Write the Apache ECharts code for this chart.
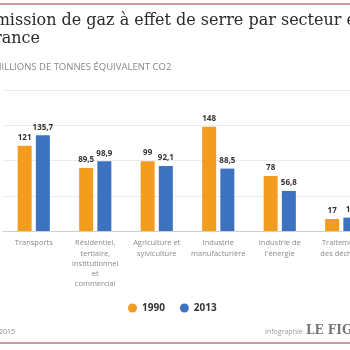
<!DOCTYPE html>
<html>
<head>
<meta charset="utf-8">
<script src="https://cdn.jsdelivr.net/npm/echarts@6/dist/echarts.min.js"></script>
<style>
html,body{margin:0;padding:0;background:#fff;}
#chart{width:350px;height:350px;}
</style>
</head>
<body>
<div id="chart"></div>
<script>
// secteurs (axe x)
var categories = ['Transports', 'Résidentiel,\ntertiaire,\ninstitutionnel\net\ncommercial',
  'Agriculture et\nsylviculture', 'Industrie\nmanufacturière', 'Industrie de\nl\'énergie',
  'Traitement\ndes déchets'];
// millions de tonnes équivalent CO2
var values1990 = [121, 89.5, 99, 148, 78, 17];
var values2013 = [135.7, 98.9, 92.1, 88.5, 56.8, 19];
var years = ['1990', '2013'];

var chart = echarts.init(document.getElementById('chart'));

function fmt(p){
  return String(p.value).replace('.', ',');
}
function serie(name, data, color){
  return {
    name: name,
    type: 'bar',
    data: data,
    barWidth: 14,
    barGap: '30%',
    itemStyle: {color: color},
    label: {
      show: true,
      position: 'top',
      distance: 4,
      formatter: fmt,
      fontFamily: 'Open Sans',
      fontWeight: 'bold',
      fontSize: 8,
      color: '#333'
    }
  };
}

var option = {
  backgroundColor: '#fff',
  animation: false,
  grid: {left: 3, right: -22, top: 90, bottom: 119, containLabel: false, outerBoundsMode: 'none'},
  legend: {
    data: years,
    left: 123,
    top: 298,
    icon: 'circle',
    itemWidth: 9,
    itemHeight: 9,
    itemGap: 15,
    textStyle: {fontFamily: 'Open Sans', fontWeight: 'bold', fontSize: 10, color: '#333'}
  },
  xAxis: {
    type: 'category',
    data: categories,
    axisLine: {lineStyle: {color: '#cfcfcf'}},
    axisTick: {lineStyle: {color: '#cfcfcf'}, length: 4},
    axisLabel: {
      interval: 0,
      fontFamily: 'Open Sans',
      fontSize: 7.5,
      lineHeight: 10.3,
      color: '#8a8a8a',
      margin: 7
    }
  },
  yAxis: {
    type: 'value',
    min: 0,
    max: 200,
    interval: 50,
    axisLabel: {show: false},
    axisLine: {show: false},
    axisTick: {show: false},
    splitLine: {lineStyle: {color: '#ececec'}}
  },
  series: [
    serie('1990', values1990, '#f39c1f'),
    serie('2013', values2013, '#3d72c0')
  ],
  graphic: [
    {type: 'rect', shape: {x: 0, y: 3, width: 350, height: 2}, style: {fill: '#c99a9a'}},
    {type: 'rect', shape: {x: 0, y: 342, width: 350, height: 2}, style: {fill: '#c99a9a'}},
    {type: 'text', left: -17, top: 13,
      style: {text: 'Émission de gaz à effet de serre par secteur en', font: '16px "DejaVu Serif"', fill: '#2a2a2a'}},
    {type: 'text', left: -17, top: 31,
      style: {text: 'France', font: '16px "DejaVu Serif"', fill: '#2a2a2a'}},
    {type: 'text', left: -7, top: 62,
      style: {text: 'MILLIONS DE TONNES ÉQUIVALENT CO2', font: '9.5px "Open Sans"', fill: '#888'}},
    {type: 'text', left: -1, top: 328,
      style: {text: '2015', font: '7px "Open Sans"', fill: '#888'}},
    {type: 'text', left: 265, top: 328,
      style: {text: 'Infographie', font: '7px "Open Sans"', fill: '#999'}},
    {type: 'text', left: 306, top: 325,
      style: {text: 'LE FIGARO', font: 'bold 12px "DejaVu Serif"', fill: '#777'}}
  ]
};
chart.setOption(option);
</script>
</body>
</html>
